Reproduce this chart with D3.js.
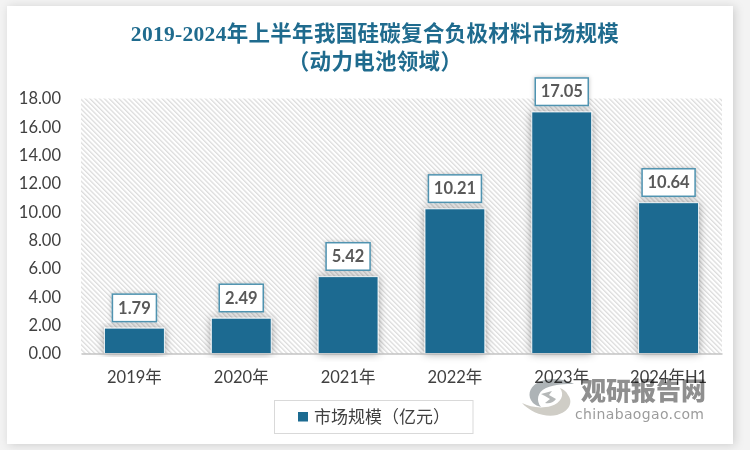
<!DOCTYPE html>
<html>
<head>
<meta charset="utf-8">
<script src="https://cdn.jsdelivr.net/npm/d3@7"></script>
<style>
  html, body { margin: 0; padding: 0; background: #f3f3f3; overflow: hidden; }
  svg { display: block; }
</style>
</head>
<body>
<svg id="chart" width="750" height="450"></svg>
<script>
const categories = ['2019年', '2020年', '2021年', '2022年', '2023年', '2024年H1'];
const marketSize = [1.79, 2.49, 5.42, 10.21, 17.05, 10.64];
const yTicks = [0, 2, 4, 6, 8, 10, 12, 14, 16, 18];
const titleLines = ['2019-2024年上半年我国硅碳复合负极材料市场规模', '（动力电池领域）'];
const legendLabel = '市场规模（亿元）';

const sansFont = 'Lato, "Noto Sans CJK SC", sans-serif';
const titleFont = '"Liberation Serif", "Noto Sans CJK SC", serif';
const barColor = '#1c6b91';

const svg = d3.select('#chart');
const defs = svg.append('defs');

// card, bar and label shadows
const cardShadow = defs.append('filter').attr('id', 'card-shadow')
  .attr('x', '-5%').attr('y', '-5%').attr('width', '110%').attr('height', '110%');
cardShadow.append('feDropShadow').attr('dx', 2).attr('dy', 1).attr('stdDeviation', 5)
  .attr('flood-color', '#000').attr('flood-opacity', 0.16);

const barShadow = defs.append('filter').attr('id', 'bar-shadow')
  .attr('x', '-30%').attr('y', '-20%').attr('width', '160%').attr('height', '130%');
barShadow.append('feDropShadow').attr('dx', 0).attr('dy', 0).attr('stdDeviation', 4)
  .attr('flood-color', '#000').attr('flood-opacity', 0.38);

const labelShadow = defs.append('filter').attr('id', 'label-shadow')
  .attr('x', '-20%').attr('y', '-30%').attr('width', '140%').attr('height', '160%');
labelShadow.append('feDropShadow').attr('dx', 0).attr('dy', 0).attr('stdDeviation', 2)
  .attr('flood-color', '#000').attr('flood-opacity', 0.25);

const hatch = defs.append('pattern').attr('id', 'hatch')
  .attr('patternUnits', 'userSpaceOnUse').attr('width', 3.4).attr('height', 3.4)
  .attr('patternTransform', 'rotate(-45)');
hatch.append('rect').attr('width', 3.4).attr('height', 3.4).attr('fill', '#fff');
hatch.append('rect').attr('width', 1.3).attr('height', 3.4).attr('fill', '#dcdcdc');

svg.append('rect').attr('x', 7).attr('y', 6).attr('width', 726).attr('height', 438)
  .attr('fill', '#fff').attr('filter', 'url(#card-shadow)');

// title
svg.append('g').selectAll('text').data(titleLines).join('text')
  .attr('x', 375)
  .attr('y', (d, i) => 41 + i * 28)
  .attr('text-anchor', 'middle')
  .attr('font-family', titleFont)
  .attr('font-weight', 700)
  .attr('font-size', 21.5)
  .attr('letter-spacing', 0.3)
  .attr('fill', '#1f6b8e')
  .text(d => d);

const x = d3.scaleBand().domain(categories).range([81, 722]).paddingInner(0.44).paddingOuter(0.22);
const y = d3.scaleLinear().domain([0, 18]).range([353.5, 98.5]);

// plot background
svg.append('rect')
  .attr('x', x.range()[0]).attr('y', y(18))
  .attr('width', x.range()[1] - x.range()[0]).attr('height', y(0) - y(18))
  .attr('fill', 'url(#hatch)');

// bars
svg.append('g').selectAll('rect').data(marketSize).join('rect')
  .attr('x', (d, i) => x(categories[i]))
  .attr('y', d => y(d))
  .attr('width', x.bandwidth())
  .attr('height', d => y(0) - y(d))
  .attr('fill', barColor)
  .attr('stroke', '#fff')
  .attr('stroke-width', 0.8)
  .attr('filter', 'url(#bar-shadow)');

// y axis
const yAxis = svg.append('g')
  .attr('transform', 'translate(61,0)')
  .call(d3.axisLeft(y).tickValues(yTicks).tickSize(0).tickPadding(0).tickFormat(d3.format('.2f')));
yAxis.select('.domain').remove();
yAxis.selectAll('text')
  .attr('font-family', sansFont).attr('font-size', 16.5).attr('fill', '#404040');

// x axis
const xAxis = svg.append('g')
  .attr('transform', `translate(0,${y(0)})`)
  .call(d3.axisBottom(x).tickSize(0).tickPadding(18));
xAxis.select('.domain').attr('stroke', '#a6a6a6').attr('stroke-width', 1.2);
xAxis.selectAll('text')
  .attr('font-family', sansFont).attr('font-size', 16.5).attr('fill', '#404040');

// value labels
const labelFormat = d3.format('.2f');
const labels = svg.append('g').selectAll('g').data(marketSize).join('g')
  .attr('transform', (d, i) => `translate(${x(categories[i]) + x.bandwidth() / 2},${y(d) - 20})`);
labels.append('rect')
  .attr('x', d => d >= 10 ? -26.5 : -22)
  .attr('y', -14)
  .attr('width', d => d >= 10 ? 53 : 44)
  .attr('height', 27.5)
  .attr('fill', '#fff')
  .attr('stroke', '#4f93b0')
  .attr('stroke-width', 1.5)
  .attr('filter', 'url(#label-shadow)');
labels.append('text')
  .attr('text-anchor', 'middle')
  .attr('dy', 5.5)
  .attr('font-family', sansFont)
  .attr('font-weight', 700)
  .attr('font-size', 16.5)
  .attr('fill', '#595959')
  .text(d => labelFormat(d));

// legend
svg.append('rect').attr('x', 274.5).attr('y', 400.5).attr('width', 198.5).attr('height', 33)
  .attr('fill', '#fff').attr('stroke', '#d9d9d9');
svg.append('rect').attr('x', 298).attr('y', 412).attr('width', 10).attr('height', 9.5).attr('fill', barColor);
svg.append('text').attr('x', 314).attr('y', 423)
  .attr('font-family', sansFont).attr('font-size', 17).attr('fill', '#404040')
  .text(legendLabel);

// watermark
const mark = svg.append('g').style('mix-blend-mode', 'multiply');
mark.append('path')
  .attr('d', 'M522 403 C530 412 545 418 557 415 C568 412 574 403 568 395 C566 391 563 389 560 388 C565 395 561 403 551 406 C541 409 530 407 522 403Z')
  .attr('fill', '#cfcdc6');
mark.append('path')
  .attr('d', 'M574 384 C563 378 547 377 537 383 C529 388 527 396 533 403 C535 405 538 406 541 407 C536 401 537 392 546 388 C555 384 566 384 574 384Z')
  .attr('fill', '#adb3b6');
mark.append('path')
  .attr('d', 'M541 394 L552 391 L549 395 L556 399 C553 403 549 404 545 403 L550 399 L545 396Z')
  .attr('fill', '#b5b8b8');
mark.append('text').attr('x', 581).attr('y', 400)
  .attr('font-family', '"Noto Sans CJK SC", sans-serif').attr('font-weight', 900)
  .attr('font-size', 25).attr('fill', '#8f8f8f')
  .text('观研报告网');
mark.append('text').attr('x', 575).attr('y', 419)
  .attr('font-family', '"DejaVu Sans", sans-serif')
  .attr('font-size', 14).attr('letter-spacing', 0.35).attr('fill', '#9c9c9c')
  .text('chinabaogao.com');
</script>
</body>
</html>
